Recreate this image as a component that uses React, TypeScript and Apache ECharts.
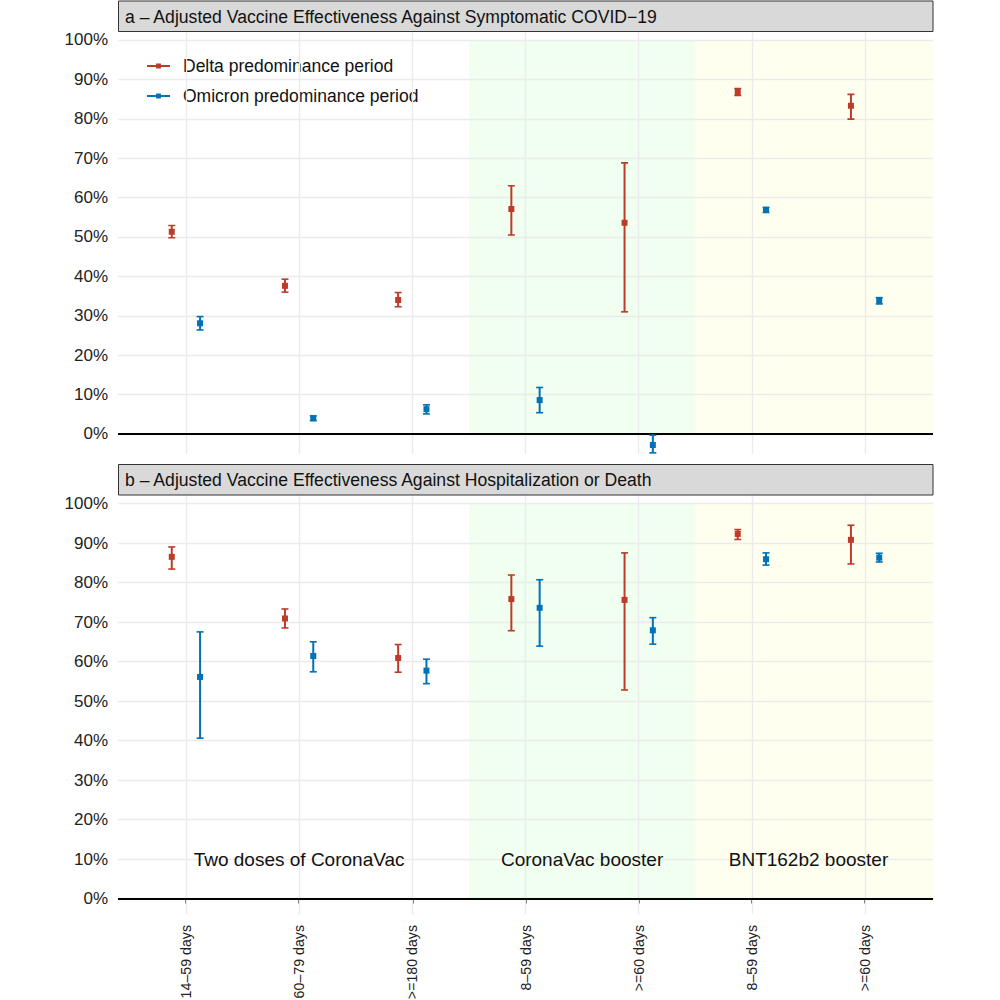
import React, { useEffect, useRef } from "react";
import * as echarts from "echarts";

// ---------- data ----------
const categories = ["14–59 days", "60–79 days", ">=180 days", "8–59 days", ">=60 days", "8–59 days", ">=60 days"];
const seriesNames = ["Delta predominance period", "Omicron predominance period"];
const panelTitles = [
  "a – Adjusted Vaccine Effectiveness Against Symptomatic COVID−19",
  "b – Adjusted Vaccine Effectiveness Against Hospitalization or Death",
];
const yTicks = [0, 10, 20, 30, 40, 50, 60, 70, 80, 90, 100];

// Panel a: symptomatic COVID-19 (VE %, estimate and 95% CI)
const deltaSympEst = [51.3, 37.6, 34.0, 57.1, 53.6, 86.8, 83.3];
const deltaSympLo = [49.8, 36.0, 32.3, 50.5, 31.0, 85.9, 79.9];
const deltaSympHi = [52.9, 39.3, 35.9, 63.0, 68.8, 87.7, 86.2];
const omicronSympEst = [28.1, 4.0, 6.3, 8.6, -2.8, 56.9, 33.8];
const omicronSympLo = [26.4, 3.4, 5.1, 5.4, -4.8, 56.2, 33.0];
const omicronSympHi = [29.8, 4.6, 7.4, 11.8, -0.3, 57.5, 34.6];

// Panel b: hospitalization or death
const deltaHospEst = [86.5, 70.9, 60.9, 75.8, 75.6, 92.3, 90.8];
const deltaHospLo = [83.4, 68.5, 57.3, 67.8, 52.8, 90.9, 84.7];
const deltaHospHi = [89.0, 73.3, 64.3, 81.9, 87.5, 93.4, 94.5];
const omicronHospEst = [56.1, 61.4, 57.7, 73.6, 67.9, 85.9, 86.3];
const omicronHospLo = [40.6, 57.4, 54.4, 63.9, 64.4, 84.4, 85.2];
const omicronHospHi = [67.5, 65.0, 60.6, 80.7, 71.1, 87.5, 87.4];

// Regimen groups (boundaries in category units)
const groupLabels = ["Two doses of CoronaVac", "CoronaVac booster", "BNT162b2 booster"];
const groupCenters = [2, 4.5, 6.5];
const groupLabelY = 10;
const shadeFrom = [3.5, 5.5];
const shadeTo = [5.5, 7.6];

// ---------- styles ----------
const FONT = "'Liberation Sans', Arial, Helvetica, sans-serif";
const RED = "#BC3C29";
const BLUE = "#0072B5";
const SHADE_COLORS = ["rgba(0,255,0,0.06)", "rgba(255,255,0,0.06)"];
const GRID_COLOR = "#EBEBEB";
const DODGE = 0.125;

const buildData = (est: number[], lo: number[], hi: number[], off: number) =>
  est.map((v, i) => [i + 1 + off, v, lo[i], hi[i]]);

const renderErr = (params: any, api: any) => {
  const x = api.value(0);
  const pE = api.coord([x, api.value(1)]);
  const pL = api.coord([x, api.value(2)]);
  const pH = api.coord([x, api.value(3)]);
  const color = api.visual("color");
  const cap = 3.5;
  return {
    type: "group",
    children: [
      { type: "line", shape: { x1: pE[0], y1: pL[1], x2: pE[0], y2: pH[1] }, style: { stroke: color, lineWidth: 2 } },
      { type: "line", shape: { x1: pE[0] - cap, y1: pL[1], x2: pE[0] + cap, y2: pL[1] }, style: { stroke: color, lineWidth: 1.6 } },
      { type: "line", shape: { x1: pE[0] - cap, y1: pH[1], x2: pE[0] + cap, y2: pH[1] }, style: { stroke: color, lineWidth: 1.6 } },
      { type: "rect", shape: { x: pE[0] - 3, y: pE[1] - 3, width: 6, height: 6 }, style: { fill: color } },
    ],
  };
};

const LEGEND_ICON = "path://M0,2L9.5,2L9.5,0.5L14.5,0.5L14.5,2L24,2L24,4L14.5,4L14.5,5.5L9.5,5.5L9.5,4L0,4Z";

export default function App() {
  const ref = useRef<HTMLDivElement>(null);
  useEffect(() => {
    document.body.style.margin = "0";
    if (!ref.current) return;
    const chart = echarts.init(ref.current, undefined, { renderer: "svg" });

    const grids = [
      { left: 118, top: 31.7, width: 815, height: 422.3, outerBoundsMode: "none", containLabel: false },
      { left: 118, top: 495, width: 815, height: 419, outerBoundsMode: "none", containLabel: false },
    ];
    const yRanges = [
      [-5.08, 102.1],
      [-3.9, 102.15],
    ];

    const panelData = [
      [
        buildData(deltaSympEst, deltaSympLo, deltaSympHi, -DODGE),
        buildData(omicronSympEst, omicronSympLo, omicronSympHi, DODGE),
      ],
      [
        buildData(deltaHospEst, deltaHospLo, deltaHospHi, -DODGE),
        buildData(omicronHospEst, omicronHospLo, omicronHospHi, DODGE),
      ],
    ];

    const series: any[] = [];
    [0, 1].forEach((p) => {
      // background: shading + gridlines
      series.push({
        type: "line",
        xAxisIndex: p,
        yAxisIndex: p,
        data: [],
        silent: true,
        z: 1,
        markArea: {
          silent: true,
          data: shadeFrom.map((f, i) => [
            { xAxis: f, yAxis: 0, itemStyle: { color: SHADE_COLORS[i] } },
            { xAxis: shadeTo[i], yAxis: 100 },
          ]),
        },
        markLine: {
          silent: true,
          symbol: ["none", "none"],
          label: { show: false },
          animation: false,
          lineStyle: { color: GRID_COLOR, width: 1.4, type: "solid" },
          emphasis: { disabled: true },
          data: [
            ...categories.map((_, i) => ({ xAxis: i + 1 })),
            ...yTicks.map((v) => ({ yAxis: v })),
          ],
        },
      });
      // zero line
      series.push({
        type: "line",
        xAxisIndex: p,
        yAxisIndex: p,
        data: [],
        silent: true,
        z: 3,
        markLine: {
          silent: true,
          symbol: ["none", "none"],
          label: { show: false },
          lineStyle: { color: "#000", width: 2, type: "solid" },
          emphasis: { disabled: true },
          data: [{ yAxis: 0 }],
        },
      });
      // error bars
      [0, 1].forEach((s) => {
        series.push({
          type: "custom",
          name: seriesNames[s],
          xAxisIndex: p,
          yAxisIndex: p,
          itemStyle: { color: s === 0 ? RED : BLUE },
          renderItem: renderErr,
          data: panelData[p][s],
          clip: true,
          z: 5,
        });
      });
    });

    // group labels in panel b
    series.push({
      type: "custom",
      xAxisIndex: 1,
      yAxisIndex: 1,
      silent: true,
      z: 6,
      data: groupCenters.map((c) => [c, groupLabelY]),
      renderItem: (params: any, api: any) => {
        const pt = api.coord([api.value(0), api.value(1)]);
        return {
          type: "text",
          x: pt[0],
          y: pt[1],
          style: {
            text: groupLabels[params.dataIndex],
            align: "center",
            verticalAlign: "middle",
            fontSize: 19,
            fontFamily: FONT,
            fill: "#111",
          },
        };
      },
    });

    const option: any = {
      animation: false,
      backgroundColor: "#fff",
      textStyle: { fontFamily: FONT },
      grid: grids,
      legend: {
        show: true,
        selectedMode: false,
        orient: "vertical",
        left: 147,
        top: 56,
        padding: 0,
        itemWidth: 23,
        itemHeight: 6,
        itemGap: 10,
        icon: LEGEND_ICON,
        data: seriesNames,
        textStyle: { fontSize: 17.5, fontFamily: FONT, color: "#111", lineHeight: 20, padding: [0, 0, 0, 8] },
      },
      xAxis: [0, 1].map((p) => ({
        type: "value",
        gridIndex: p,
        min: 0.4,
        max: 7.6,
        axisLine: { show: false },
        splitLine: { show: false },
        axisTick:
          p === 1
            ? { show: true, customValues: categories.map((_, i) => i + 1), length: 5, lineStyle: { color: "#333", width: 1.5 } }
            : { show: false },
        axisLabel:
          p === 1
            ? {
                show: true,
                customValues: categories.map((_, i) => i + 1),
                formatter: (v: number) => categories[Math.round(v) - 1] ?? "",
                rotate: 90,
                fontSize: 14.2,
                fontFamily: FONT,
                color: "#222",
                margin: 11,
              }
            : { show: false },
      })),
      yAxis: [0, 1].map((p) => ({
        type: "value",
        gridIndex: p,
        min: yRanges[p][0],
        max: yRanges[p][1],
        axisLine: { show: false },
        axisTick: { show: false },
        splitLine: { show: false },
        axisLabel: {
          show: true,
          customValues: yTicks,
          formatter: (v: number) => `${Math.round(v)}%`,
          fontSize: 17,
          fontFamily: FONT,
          color: "#222",
          margin: 10,
        },
      })),
      graphic: [
        { type: "rect", shape: { x: 118.5, y: 1, width: 814.5, height: 30.5 }, style: { fill: "#D9D9D9", stroke: "#333", lineWidth: 1 }, z: 10 },
        { type: "text", x: 125, y: 16.5, style: { text: panelTitles[0], fontSize: 17.6, fontFamily: FONT, fill: "#111", verticalAlign: "middle" }, z: 11 },
        { type: "rect", shape: { x: 118.5, y: 464.5, width: 814.5, height: 30.5 }, style: { fill: "#D9D9D9", stroke: "#333", lineWidth: 1 }, z: 10 },
        { type: "text", x: 125, y: 480, style: { text: panelTitles[1], fontSize: 17.6, fontFamily: FONT, fill: "#111", verticalAlign: "middle" }, z: 11 },
      ],
      series,
    };
    chart.setOption(option);
    return () => chart.dispose();
  }, []);
  return <div ref={ref} style={{ width: 1000, height: 1000 }} />;
}
